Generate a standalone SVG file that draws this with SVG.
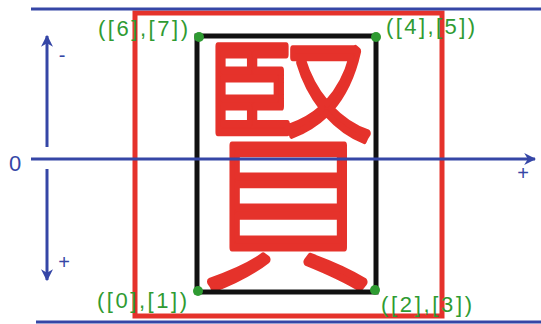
<svg xmlns="http://www.w3.org/2000/svg" width="541" height="324" viewBox="0 0 541 324">
<defs>
<style>
.blue{stroke:#3546a6;stroke-width:3;fill:none}
.lbl{font-family:"Liberation Sans",Arial,sans-serif;font-size:22px;fill:#2f9b32}
.ax{font-family:"Liberation Sans",Arial,sans-serif;fill:#3546a6}
.dot{fill:#2f9b32}
</style>
<marker id="ah" viewBox="0 0 10 10" refX="9" refY="5" markerWidth="4" markerHeight="4" orient="auto-start-reverse" markerUnits="strokeWidth">
<path d="M0,0 L10,5 L0,10 L3,5 z" fill="#3546a6"/>
</marker>
</defs>
<rect width="541" height="324" fill="#fff"/>
<g id="outer-box"><rect x="135" y="13" width="307" height="303" fill="none" stroke="#e5322b" stroke-width="5"/></g>
<g id="glyph"><text x="287" y="172" transform="scale(1,1.56)" text-anchor="middle" font-family="'Noto Sans CJK JP','Noto Sans CJK SC',sans-serif" font-weight="100" font-size="178" fill="#e5322b" stroke="#e5322b" stroke-width="5" stroke-linejoin="round" stroke-linecap="round">賢</text></g>
<g id="inner-box"><rect x="197" y="36" width="179" height="256" fill="none" stroke="#111" stroke-width="5"/></g>
<g id="connectors">
<line class="blue" x1="31" y1="9" x2="541" y2="9"/>
<line class="blue" x1="36" y1="322" x2="541" y2="322"/>
<line class="blue" x1="31" y1="159" x2="535" y2="159" marker-end="url(#ah)"/>
<line class="blue" x1="47" y1="147" x2="47" y2="36" marker-end="url(#ah)"/>
<line class="blue" x1="47" y1="169" x2="47" y2="280" marker-end="url(#ah)"/>
</g>
<g id="corners">
<circle class="dot" cx="199" cy="37" r="5"/>
<circle class="dot" cx="376" cy="37" r="5"/>
<circle class="dot" cx="198" cy="291" r="5"/>
<circle class="dot" cx="375" cy="290" r="5"/>
<text class="lbl" x="98" y="36" textLength="90" lengthAdjust="spacing">([6],[7])</text>
<text class="lbl" x="386" y="34" textLength="89" lengthAdjust="spacing">([4],[5])</text>
<text class="lbl" x="97" y="308" textLength="90" lengthAdjust="spacing">([0],[1])</text>
<text class="lbl" x="381" y="312" textLength="91" lengthAdjust="spacing">([2],[3])</text>
</g>
<g id="axis-labels">
<text class="ax" x="9" y="171" font-size="22">0</text>
<text class="ax" x="62" y="62" font-size="20" text-anchor="middle">-</text>
<text class="ax" x="64" y="269" font-size="20" text-anchor="middle">+</text>
<text class="ax" x="523" y="180" font-size="20" text-anchor="middle">+</text>
</g>
</svg>
